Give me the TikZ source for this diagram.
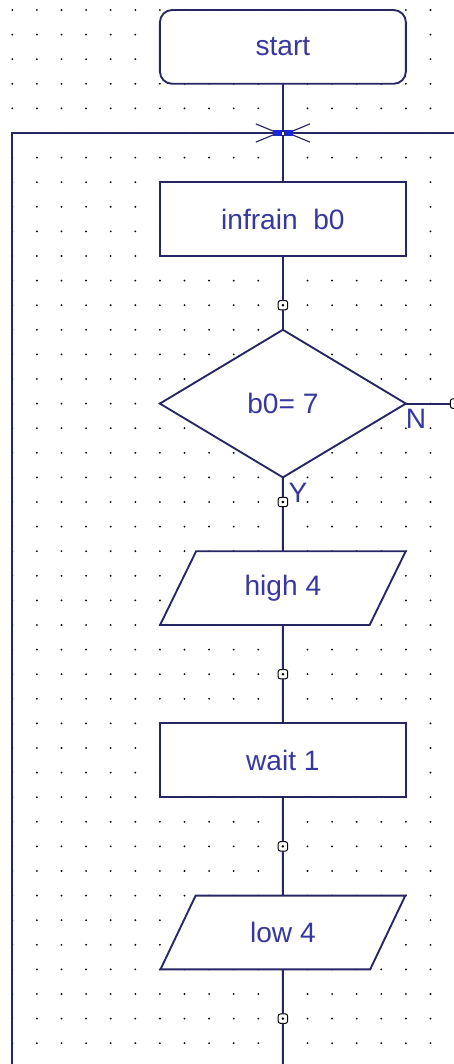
\documentclass[tikz,border=0pt]{standalone}
\usepackage{fontspec}
\setmainfont{Liberation Sans}
\usetikzlibrary{positioning, shapes.geometric}

\definecolor{flowline}{RGB}{38,38,100}
\definecolor{flowtext}{RGB}{55,55,160}
\definecolor{joinblue}{RGB}{25,40,210}

\begin{document}
\begin{tikzpicture}[
        x=0.6cm, y=0.6cm,
        every node/.style={font=\fontsize{19.5}{23}\selectfont, text=flowtext, outer sep=0pt},
        terminal/.style={rectangle, rounded corners=0.3cm, draw=flowline, fill=white, line width=1.3pt, minimum width=6cm, minimum height=1.8cm},
        process/.style={rectangle, draw=flowline, fill=white, line width=1.3pt, minimum width=6cm, minimum height=1.8cm},
        decision/.style={diamond, draw=flowline, fill=white, line width=1.3pt, minimum width=6cm, minimum height=3.6cm, inner sep=0pt},
        io/.style={trapezium, trapezium left angle=63.4, trapezium right angle=116.6, trapezium stretches=true, draw=flowline, fill=white, line width=1.3pt, minimum width=6cm, minimum height=1.8cm},
        pin/.style={rectangle, rounded corners=1.5pt, draw=black, fill=white, line width=0.7pt, minimum size=6.5pt, inner sep=0pt, path picture={\fill[black] (path picture bounding box.center) circle (1pt);}},
        flow/.style={draw=flowline, line width=1.3pt},
        joinstroke/.style={draw=flowline, line width=0.8pt}
    ]

    \useasboundingbox (-0.5,0.4065) rectangle (17.955,-42.846);

    % Dot grid
    \foreach \i in {0,...,17}
        \foreach \j in {0,...,42}
            \fill[black] (\i,-\j) circle (0.7pt);

    % Nodes
    \node[terminal] (start) at (11,-1.5) {start};
    \coordinate (join) at (11,-5);
    \node[process, below=2.4cm of start] (infrain) {infrain\ \ b0};
    \node[decision, below=1.8cm of infrain] (test) {b0= 7};
    \node[io, below=1.8cm of test] (high) {high 4};
    \node[process, below=2.4cm of high] (wait) {wait 1};
    \node[io, below=2.4cm of wait] (low) {low 4};

    % Pins on the lines
    \node[pin] (p1) at ([yshift=-1.2cm]infrain.south) {};
    \node[pin] (p2) at ([yshift=-0.6cm]test.south) {};
    \node[pin] (p3) at ([yshift=-1.2cm]high.south) {};
    \node[pin] (p4) at ([yshift=-1.2cm]wait.south) {};
    \node[pin] (p5) at ([yshift=-1.2cm]low.south) {};
    \node[pin] (pn) at ([xshift=1.2cm]test.east) {};

    % Free ends
    \coordinate (loopL) at (0,-5);
    \coordinate (loopB) at (0,-43.5);
    \coordinate (loopR) at (18.5,-5);
    \coordinate (bottom) at (11,-43.5);

    % Branch labels
    \node[anchor=north west, inner sep=0pt] (nlab) at ([yshift=-4pt]test.east) {N};
    \node[anchor=north west, inner sep=0pt] (ylab) at ([xshift=4pt,yshift=-4pt]test.south) {Y};

    % Lines
    \draw[flow] (start) -- (join) -- (infrain);
    \draw[flow] (infrain) -- (p1) -- (test);
    \draw[flow] (test) -- (p2) -- (high);
    \draw[flow] (high) -- (p3) -- (wait);
    \draw[flow] (wait) -- (p4) -- (low);
    \draw[flow] (low) -- (p5) -- (bottom);
    \draw[flow] (test) -- (pn);
    \draw[flow] (loopB) -- (loopL) -- (join) -- (loopR);

    % Join mark
    \draw[joinstroke] ([shift={(-1.1,0.37)}]join) -- ([shift={(-0.4,0.08)}]join);
    \draw[joinstroke] ([shift={(-1.1,-0.37)}]join) -- ([shift={(-0.4,-0.08)}]join);
    \draw[joinstroke] ([shift={(1.1,0.37)}]join) -- ([shift={(0.4,0.08)}]join);
    \draw[joinstroke] ([shift={(1.1,-0.37)}]join) -- ([shift={(0.4,-0.08)}]join);
    \fill[joinblue] ([shift={(-0.4,0.11)}]join) rectangle ([shift={(0.4,-0.11)}]join);
    \draw[flowline, fill=white, line width=0.5pt] ([shift={(-0.07,0.08)}]join) rectangle ([shift={(0.07,-0.08)}]join);
\end{tikzpicture}
\end{document}
